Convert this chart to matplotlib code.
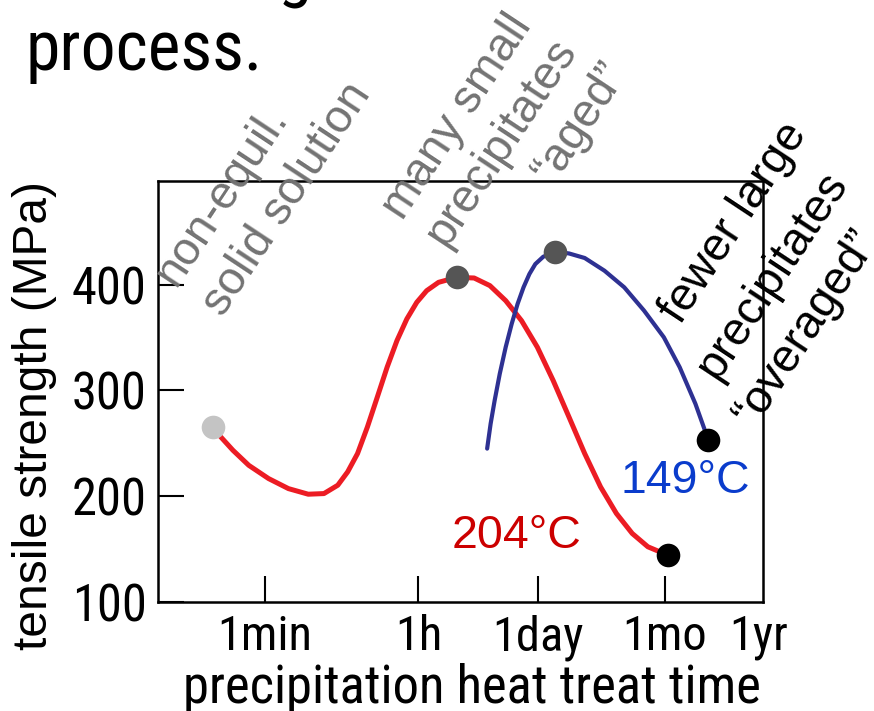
import numpy as np
import matplotlib
matplotlib.use("Agg")
import matplotlib.pyplot as plt
from matplotlib import font_manager as fm
from matplotlib.font_manager import FontProperties
from matplotlib.ticker import FixedLocator, FixedFormatter

# ---- data -------------------------------------------------------------
# aging at 204 °C: time (s) and tensile strength (MPa)
t_204 = [15, 17.7, 25.5, 38.9, 65.9, 112, 190, 289, 418, 544, 708, 921,
         1200, 1560, 2030, 2640, 3440, 4480, 6150, 9980, 15900, 24200,
         36900, 56300, 85900, 131000, 200000, 304000, 464000, 708000,
         1.08e6, 1.64e6, 2.79e6]
s_204 = [265, 257.6, 243.4, 229.2, 216.7, 207.2, 201.9, 202.5, 210.4, 223.0,
         240.3, 265.4, 293.7, 322.0, 347.2, 367.6, 383.3, 394.3, 402.2, 406.9,
         406.3, 399.1, 384.9, 366.0, 340.9, 309.4, 274.8, 240.3, 208.8, 183.7,
         164.8, 152.2, 144.3]

# aging at 149 °C
t_149 = [22500, 24700, 27500, 31500, 36900, 43300, 50700, 59400, 69500,
         81400, 100500, 139400, 200000, 304000, 515000, 873000, 1.48e6,
         2.51e6, 3.83e6, 5.83e6, 8.26e6]
s_149 = [245.0, 268.6, 290.6, 315.7, 340.9, 362.9, 381.8, 397.5, 410.1,
         419.5, 426.4, 431.1, 429.5, 425.2, 413.2, 397.5, 375.5, 350.3,
         322.0, 287.4, 252.8]

# time axis labels
tick_times = [60, 3600, 86400, 2.592e6]
tick_labels = ["1min", "1h", "1day", "1mo"]
year_time = [3.1536e7]
year_label = ["1yr"]
strength_ticks = [100, 200, 300, 400]

# ---- fonts ------------------------------------------------------------
SANS = ["Liberation Sans", "DejaVu Sans"]


def narrow_font():
    """Pick an installed narrow/condensed sans face, else regular Arial-like."""
    found = {}
    for f in fm.fontManager.ttflist:
        st = str(f.stretch).lower()
        if "narrow" in f.name.lower() or "condensed" in f.name.lower():
            found.setdefault(f.name, "normal")
        elif "condensed" in st:
            found.setdefault(f.name, st)
    for pref in ["Liberation Sans Narrow", "Arial Narrow", "Roboto Condensed",
                 "Noto Sans Condensed", "Noto Sans SemiCondensed",
                 "Open Sans Condensed", "DejaVu Sans Condensed",
                 "Noto Sans", "DejaVu Sans"]:
        if pref in found:
            return dict(family=[pref] + SANS, stretch=found[pref])
    return dict(family=SANS, stretch="normal")


NARROW = narrow_font()

RED = "#ec1c24"
BLUE = "#2e3192"
GREY_TXT = "#737373"

W, H = 874, 711
fig = plt.figure(figsize=(W / 100, H / 100), dpi=100)
ax = fig.add_axes([158 / W, 1 - 602 / H, (763 - 158) / W, (602 - 181) / H])
renderer = fig.canvas.get_renderer()


def fpos(px, py):
    """pixel position (from top-left) -> figure fraction"""
    return px / W, 1 - py / H


def fitted(text, width_px, max_pt):
    """narrow FontProperties whose size makes `text` about width_px wide"""
    base = 40.0
    fp = FontProperties(size=base, **NARROW)
    w, _, _ = renderer.get_text_width_height_descent(text, fp, ismath=False)
    fp.set_size(min(max_pt, base * width_px / w))
    return fp


# curves
ax.plot(t_204, s_204, color=RED, lw=3.6, solid_capstyle="round", zorder=3)
ax.plot(t_149, s_149, color=BLUE, lw=3.0, solid_capstyle="round", zorder=3)

# state markers: start, peak and end of the curves
ms = 17
i_pk204 = int(np.argmax(s_204))
i_pk149 = int(np.argmax(s_149))
ax.plot(t_204[0], s_204[0], "o", ms=ms, color="#c4c4c4", mec="none", zorder=5)
ax.plot(t_204[i_pk204], s_204[i_pk204], "o", ms=ms, color="#555555", mec="none", zorder=5)
ax.plot(t_149[i_pk149], s_149[i_pk149], "o", ms=ms, color="#555555", mec="none", zorder=5)
ax.plot(t_204[-1], s_204[-1], "o", ms=ms, color="black", mec="none", zorder=5, clip_on=False)
ax.plot(t_149[-1], s_149[-1], "o", ms=ms, color="black", mec="none", zorder=5, clip_on=False)

# axes setup
ax.set_xscale("log")
ax.set_xlim(3.45, 3.54e7)
ax.set_ylim(100, 498)

ax.xaxis.set_major_locator(FixedLocator(tick_times))
ax.xaxis.set_major_formatter(FixedFormatter(tick_labels))
ax.xaxis.set_minor_locator(FixedLocator(year_time))
ax.xaxis.set_minor_formatter(FixedFormatter(year_label))
ax.set_yticks(strength_ticks)
ax.set_yticklabels([str(v) for v in strength_ticks])

ax.tick_params(axis="x", which="major", direction="in", length=19, width=1.5,
               pad=9, top=False)
ax.tick_params(axis="x", which="minor", length=0, pad=9)
ax.tick_params(axis="y", which="major", direction="in", length=19, width=1.5,
               pad=8, right=False)

fp_xt = fitted("1min", 95, 39)
fp_yt = fitted("400", 75, 39)
for lab in ax.get_xticklabels(which="both"):
    lab.set_fontproperties(fp_xt)
for lab in ax.get_yticklabels():
    lab.set_fontproperties(fp_yt)
for sp in ax.spines.values():
    sp.set_linewidth(1.8)

ax.set_xlabel("precipitation heat treat time",
              fontproperties=fitted("precipitation heat treat time", 579, 42),
              va="baseline")
ax.xaxis.set_label_coords((472 - 158) / 605, (602 - 703) / 421)
ax.set_ylabel("tensile strength (MPa)", fontfamily=SANS, fontsize=34.5,
              va="center")
ax.yaxis.set_label_coords((35 - 158) / 605, (602 - 415) / 421)

# temperature labels
ax.text(8810, 151, "204°C", color="#cc0000", fontsize=33.5, fontfamily=SANS,
        ha="left", va="baseline")
ax.text(7.8e5, 203, "149°C", color="#0a3ccc", fontsize=33.5, fontfamily=SANS,
        ha="left", va="baseline")

# microstructure notes, one rotated line each
ROT = 56.5
notes = [
    ("non-equil.", (176, 287), GREY_TXT),
    ("solid solution", (223, 318), GREY_TXT),
    ("many small", (403, 221), GREY_TXT),
    ("precipitates", (446, 248), GREY_TXT),
    ("\u201caged\u201d", (553, 185), GREY_TXT),
    ("fewer large", (681, 325), "black"),
    ("precipitates", (717, 381), "black"),
    ("\u201coveraged\u201d", (754, 428), "black"),
]
for txt, (px, py), col in notes:
    fx, fy = fpos(px, py)
    fig.text(fx, fy, txt, rotation=ROT, rotation_mode="anchor", ha="left",
             va="baseline", fontsize=33.5, fontfamily=SANS, color=col, zorder=6)

# heading text at the top
fp_title = fitted("process.", 237, 56)
fx, fy = fpos(25, 70)
fig.text(fx, fy, "process.", fontproperties=fp_title, ha="left", va="baseline")
em_px = fp_title.get_size_in_points() * 100 / 72
fx, fy = fpos(278, 9 - 0.21 * em_px)
fig.text(fx, fy, "g", fontproperties=fp_title, ha="left", va="baseline")

fig.savefig("out.png", dpi=100)
